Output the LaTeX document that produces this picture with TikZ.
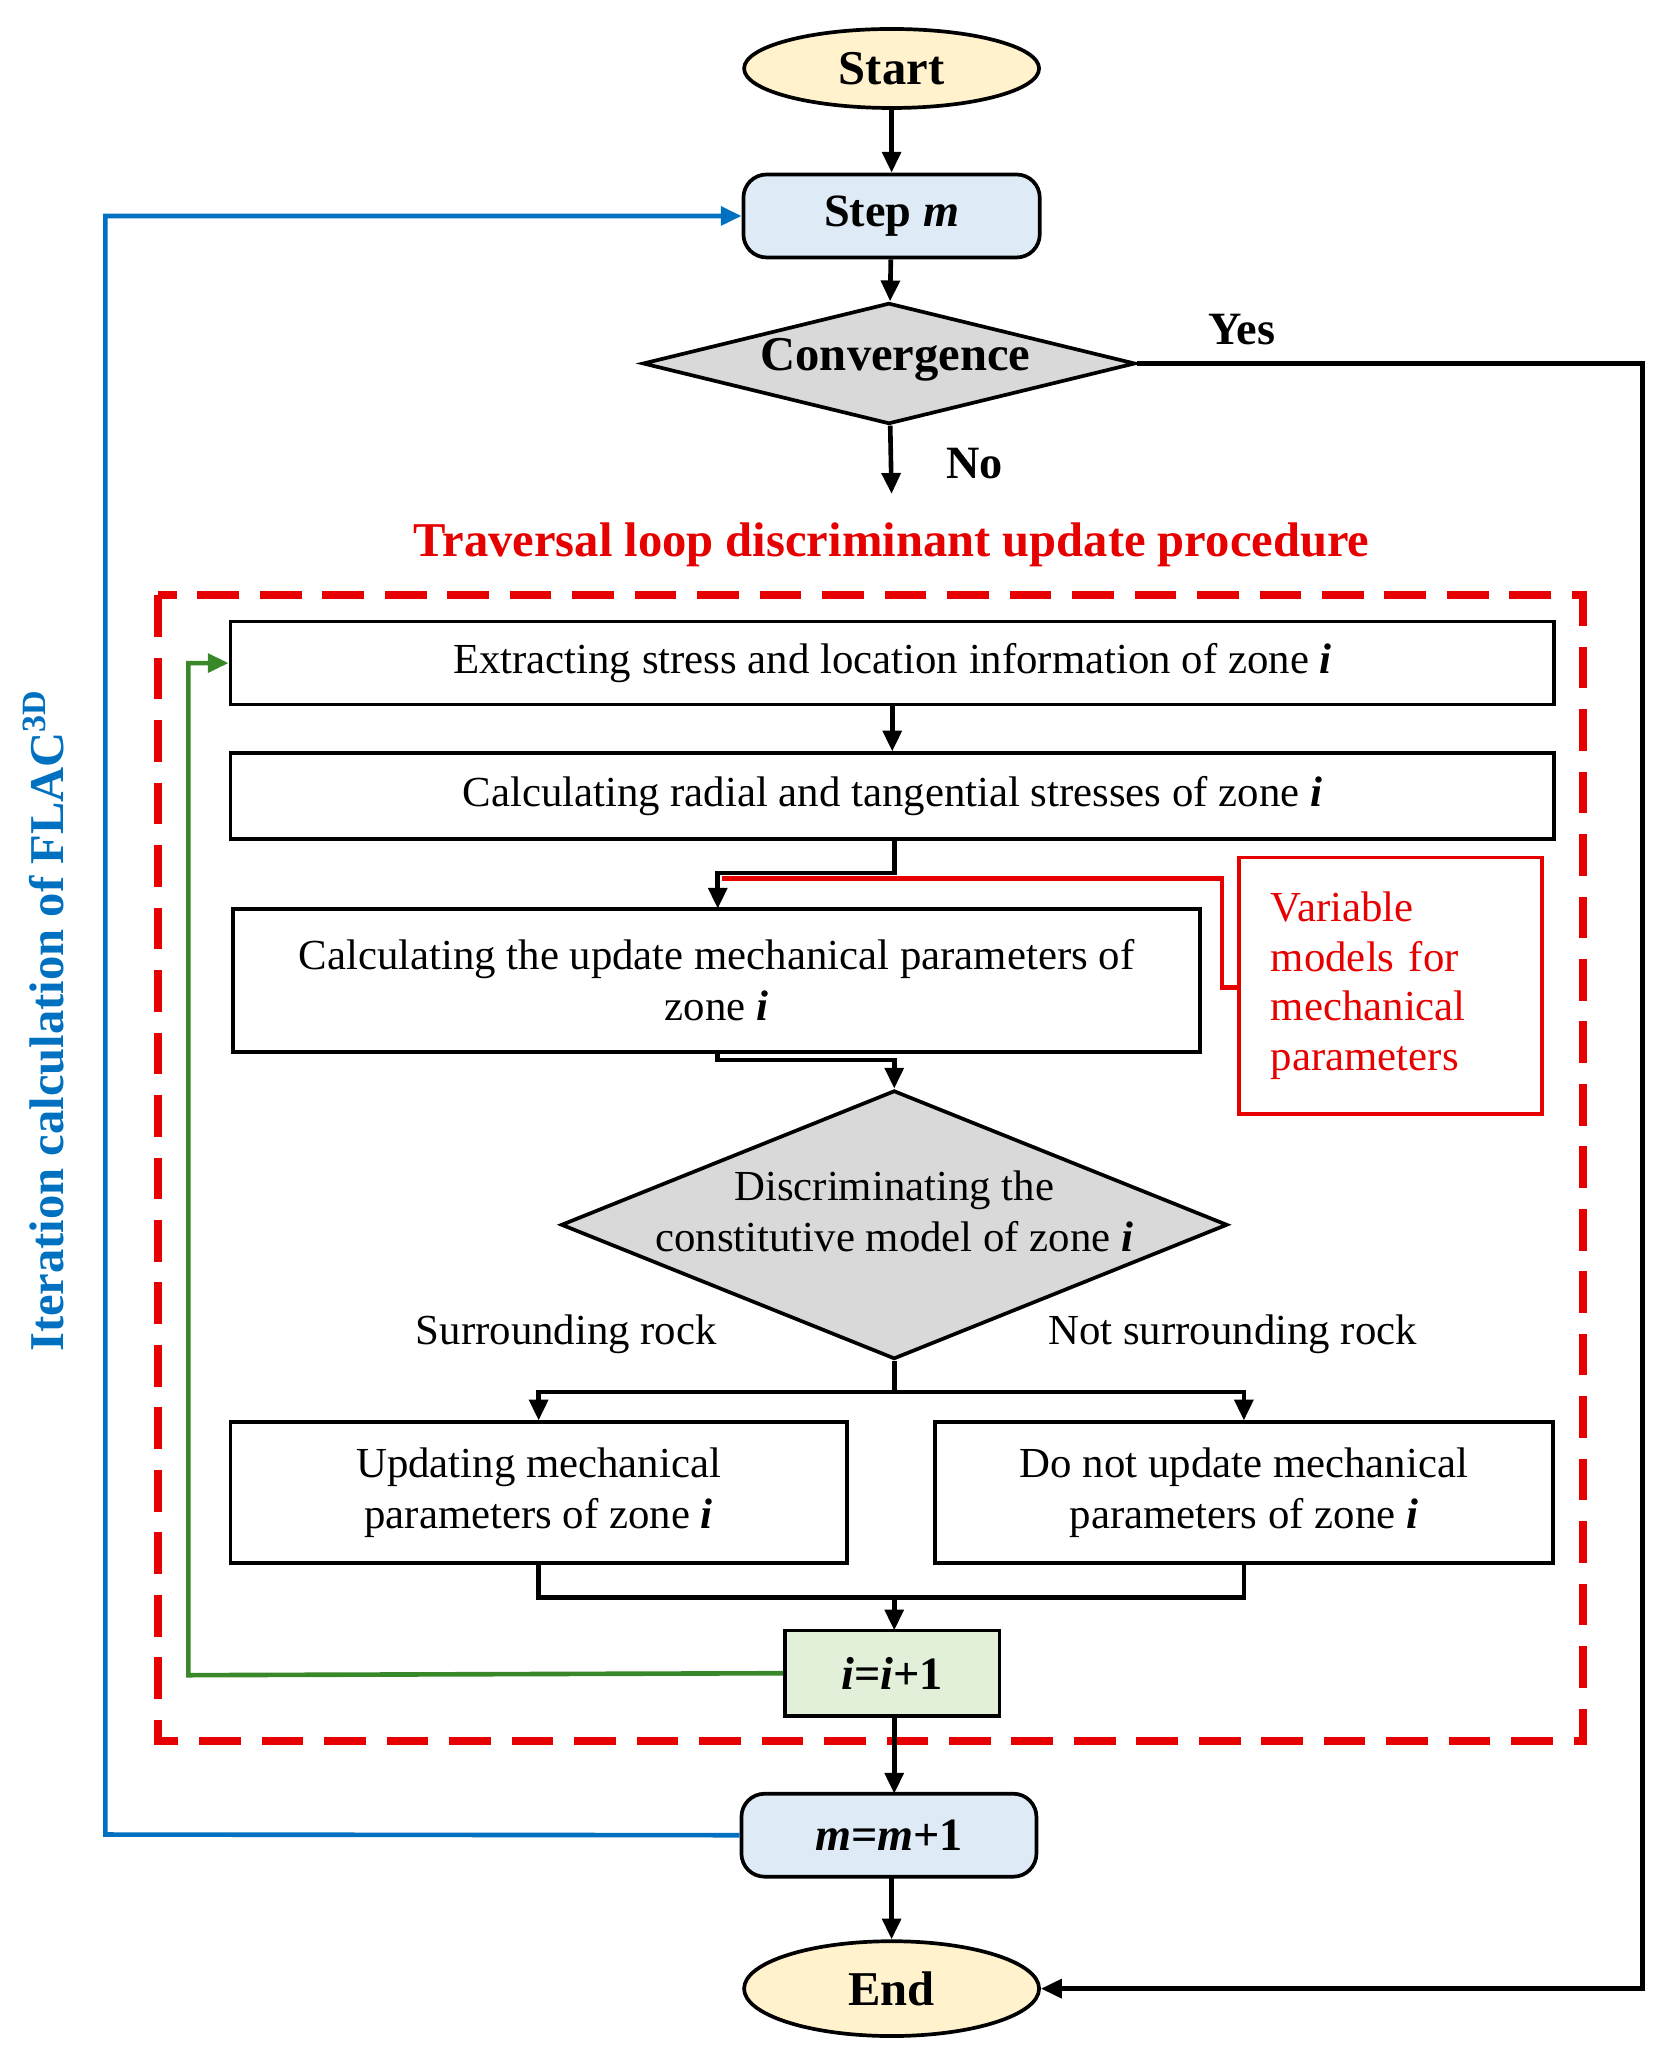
\documentclass[tikz,border=0pt]{standalone}
\usepackage{fontspec}
\setmainfont{Liberation Serif}
\usetikzlibrary{shapes.geometric,arrows.meta}
\definecolor{cyel}{RGB}{255,242,204}
\definecolor{cblu}{RGB}{222,235,247}
\definecolor{cgry}{RGB}{217,217,217}
\definecolor{cgrn}{RGB}{226,240,217}
\definecolor{lred}{RGB}{230,0,0}
\definecolor{lblu}{RGB}{0,112,192}
\definecolor{lgrn}{RGB}{56,135,40}
\begin{document}
\begin{tikzpicture}[x=0.02cm,y=-0.02cm,
 box/.style={draw,line width=1.6pt,rectangle,inner sep=0pt,font=\fontsize{18.5}{22}\selectfont,align=center},
 rbox/.style={box,rounded corners=10pt,font=\fontsize{20}{24}\selectfont\bfseries},
 ell/.style={draw,line width=1.6pt,ellipse,fill=cyel,inner sep=0pt,font=\fontsize{21}{24}\selectfont\bfseries},
 dia/.style={draw,line width=1.6pt,diamond,fill=cgry,inner sep=0pt,align=center},
 ar/.style={line width=2pt,-{Triangle[length=9pt,width=8pt]}},
 ln/.style={line width=2pt},
 lab/.style={font=\fontsize{18.5}{22}\selectfont}]
\useasboundingbox (0,0) rectangle (1270,1568);
\node[ell,minimum width=224*0.02cm,minimum height=60*0.02cm] (start) at (677,52) {Start};
\node[rbox,fill=cblu,minimum width=225*0.02cm,minimum height=63*0.02cm] (step) at (677,164) {Step \textit{m}};
\node[dia,shape aspect=4.07,minimum width=374*0.02cm,minimum height=92*0.02cm] (conv) at (675,276) {};
\node[font=\fontsize{21}{24}\selectfont\bfseries] at (680,273) {Convergence};
\node[font=\fontsize{20}{24}\selectfont\bfseries] at (943,250) {Yes};
\coordinate (no) at (677,375);
\node[font=\fontsize{20}{24}\selectfont\bfseries] at (740,352) {No};
\node[font=\fontsize{21}{24}\selectfont\bfseries,text=lred] at (677,414) {Traversal loop discriminant update procedure};
\draw[lred,line width=3.5pt,dash pattern=on 18pt off 9pt] (120,452) rectangle (1202,1322);
\node[box,minimum width=1005*0.02cm,minimum height=63*0.02cm] (b1) at (677.5,503.5) {Extracting stress and location information of zone \textbf{\textit{i}}};
\node[box,minimum width=1005*0.02cm,minimum height=65*0.02cm] (b2) at (677.5,604.5) {Calculating radial and tangential stresses of zone \textbf{\textit{i}}};
\node[box,minimum width=734*0.02cm,minimum height=109*0.02cm] (b3) at (544,744.5) {Calculating the update mechanical parameters of\\zone \textbf{\textit{i}}};
\node[box,draw=lred,minimum width=230*0.02cm,minimum height=195*0.02cm] (var) at (1056,748.5) {};
\node[text=lred,align=left,text width=200*0.02cm,font=\fontsize{18.5}{21.5}\selectfont] at (1065,748.5) {Variable\\models for\\mechanical\\parameters};
\node[dia,shape aspect=2.48,minimum width=506*0.02cm,minimum height=204*0.02cm] (d2) at (679,930) {};
\node[lab,align=center] at (679,920) {Discriminating the\\constitutive model of zone \textbf{\textit{i}}};
\node[lab] at (430,1013) {Surrounding rock};
\node[lab] at (936,1013) {Not surrounding rock};
\node[box,minimum width=468*0.02cm,minimum height=107*0.02cm] (b4) at (409,1133.5) {Updating mechanical\\parameters of zone \textbf{\textit{i}}};
\node[box,minimum width=469*0.02cm,minimum height=107*0.02cm] (b5) at (944.5,1133.5) {Do not update mechanical\\parameters of zone \textbf{\textit{i}}};
\node[box,fill=cgrn,minimum width=163*0.02cm,minimum height=65*0.02cm,font=\fontsize{20}{24}\selectfont\bfseries] (inc) at (677.5,1270.5) {\textit{i}=\textit{i}+1};
\node[rbox,fill=cblu,minimum width=224*0.02cm,minimum height=63*0.02cm] (mm) at (675,1393.5) {\textit{m}=\textit{m}+1};
\node[ell,minimum width=224*0.02cm,minimum height=72*0.02cm] (end) at (677,1510) {End};
\node[rotate=90,text=lblu,font=\fontsize{21}{24}\selectfont\bfseries] at (33,775) {Iteration calculation of FLAC\textsuperscript{3D}};
% connectors
\draw[ar] (start) -- (step);
\draw[ar] (step) -- (conv);
\draw[ar] (conv) -- (no);
\draw[ar] (conv.east) -- (1247,276) |- (end.east);
\draw[ar] (b1) -- (b2);
\draw[ln,lred] (679,667) -- (548,667);
\draw[ln,lred] (679,667) -- (928,667) -- (928,750) -- (var.west|-0,750);
\draw[ar] (679,637) -- (679,663) -| (545,690);
\draw[ar] (545,799) -- (545,805) -| (d2.north);
\draw[ln] (d2.south) -- (679,1057);
\draw[ar] (679,1057) -| (b4.north);
\draw[ar] (679,1057) -| (b5.north);
\draw[ln] (b4.south) |- (679,1213);
\draw[ln] (b5.south) |- (679,1213);
\draw[ar] (679,1213) -- (679,1238);
\draw[ar,lgrn] (inc.west) -- (143,1272) |- (b1.west);
\draw[ar] (679,1303) -- (679,1362);
\draw[ar,lblu] (mm.west) -- (80,1393) |- (step.west);
\draw[ar] (677,1425) -- (end.north);
\end{tikzpicture}
\end{document}
